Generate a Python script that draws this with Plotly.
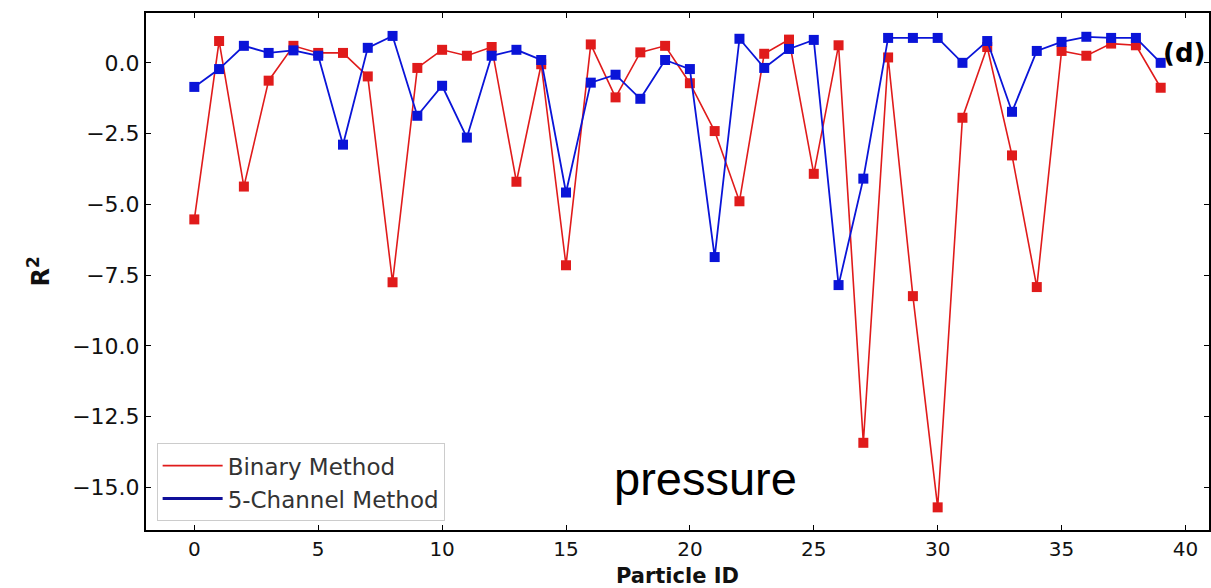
import plotly.graph_objects as go

particle_ids = list(range(40))
binary_method = [-5.53, 0.77, -4.37, -0.63, 0.60, 0.35, 0.35, -0.48, -7.75, -0.18,
                 0.46, 0.25, 0.56, -4.20, -0.05, -7.15, 0.65, -1.22, 0.37, 0.60,
                 -0.72, -2.41, -4.89, 0.32, 0.82, -3.92, 0.62, -13.42, 0.19, -8.24,
                 -15.70, -1.94, 0.56, -3.27, -7.92, 0.42, 0.25, 0.68, 0.62, -0.88]
five_channel = [-0.85, -0.22, 0.60, 0.35, 0.44, 0.25, -2.89, 0.53, 0.95, -1.87,
                -0.81, -2.64, 0.25, 0.46, 0.10, -4.58, -0.70, -0.42, -1.27, 0.10,
                -0.22, -6.86, 0.85, -0.18, 0.49, 0.81, -7.85, -4.09, 0.88, 0.88,
                0.88, 0.00, 0.77, -1.73, 0.42, 0.74, 0.92, 0.88, 0.88, 0.00]
x_ticks = [0, 5, 10, 15, 20, 25, 30, 35, 40]
y_ticks = [0.0, -2.5, -5.0, -7.5, -10.0, -12.5, -15.0]

RED = "#e01b1b"
BLUE = "#0a14d8"

fig = go.Figure()
fig.add_trace(go.Scatter(x=particle_ids, y=binary_method, mode="lines+markers",
                         line=dict(color=RED, width=1.6),
                         marker=dict(symbol="square", size=10, color=RED),
                         showlegend=False))
fig.add_trace(go.Scatter(x=particle_ids, y=five_channel, mode="lines+markers",
                         line=dict(color=BLUE, width=1.8),
                         marker=dict(symbol="square", size=10, color=BLUE),
                         showlegend=False))
# legend entries (line only)
fig.add_trace(go.Scatter(x=[None], y=[None], mode="lines", name="Binary Method",
                         line=dict(color=RED, width=1.6)))
fig.add_trace(go.Scatter(x=[None], y=[None], mode="lines", name="5-Channel Method",
                         line=dict(color="#10109a", width=3)))

axis_common = dict(showline=True, linecolor="black", linewidth=2, mirror="ticks",
                   ticks="inside", ticklen=5, tickcolor="black", showgrid=False,
                   zeroline=False, automargin=False)

fig.update_xaxes(range=[-1.95, 40.95], tickvals=x_ticks,
                 tickfont=dict(family="DejaVu Sans", size=20, color="#111"),
                 title=dict(text="<b>Particle ID</b>", standoff=8,
                            font=dict(family="DejaVu Sans", size=21, color="#111")),
                 **axis_common)
fig.update_yaxes(range=[-16.5, 1.76], tickvals=y_ticks, tickformat=".1f",
                 tickfont=dict(family="DejaVu Sans", size=22, color="#111"),
                 title=dict(text="<b>R<sup>2</sup></b>", standoff=16,
                            font=dict(family="DejaVu Sans", size=24, color="#111")),
                 **axis_common)

fig.add_annotation(text="pressure", xref="paper", yref="paper", x=0.526, y=0.045,
                   showarrow=False, font=dict(family="Liberation Sans", size=47, color="black"))
fig.add_annotation(text="<b>(d)</b>", xref="paper", yref="paper", x=0.955, y=0.955,
                   xanchor="left", showarrow=False,
                   font=dict(family="DejaVu Sans", size=26, color="black"))

fig.update_layout(
    width=1211, height=588,
    margin=dict(l=146, r=2, t=13, b=58, autoexpand=False),
    paper_bgcolor="white", plot_bgcolor="white",
    legend=dict(x=0.01, y=0.017, xanchor="left", yanchor="bottom",
                bgcolor="rgba(255,255,255,0.9)", bordercolor="#cccccc", borderwidth=1,
                font=dict(family="DejaVu Sans", size=23, color="#333"),
                itemwidth=60, tracegroupgap=0),
)

fig.write_html("out.html", config={"displayModeBar": False},
               post_script="document.body.style.margin='0';document.body.style.overflow='hidden';")
